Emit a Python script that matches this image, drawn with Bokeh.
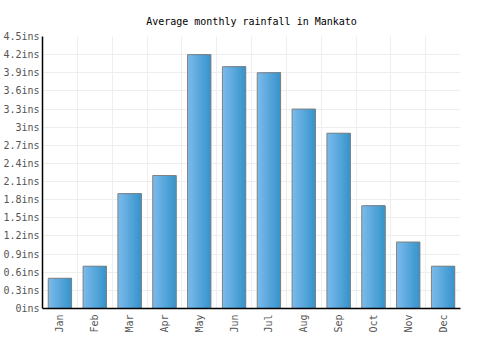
from bokeh.plotting import figure
from bokeh.models import ColumnDataSource, FixedTicker, CustomJSTickFormatter, Range1d
from bokeh.transform import dodge
from bokeh.embed import file_html
from bokeh.resources import INLINE
import numpy as np

months = ["Jan", "Feb", "Mar", "Apr", "May", "Jun", "Jul", "Aug", "Sep", "Oct", "Nov", "Dec"]
rainfall = [0.5, 0.7, 1.9, 2.2, 4.2, 4.0, 3.9, 3.3, 2.9, 1.7, 1.1, 0.7]
y_ticks = [0, 0.3, 0.6, 0.9, 1.2, 1.5, 1.8, 2.1, 2.4, 2.7, 3.0, 3.3, 3.6, 3.9, 4.2, 4.5]

xpos = [i + 0.5 for i in range(len(months))]
src = ColumnDataSource(dict(x=xpos, rain=rainfall, month=months))

FONT = "DejaVu Sans Mono"
p = figure(width=500, height=350, output_backend="svg", toolbar_location=None,
           x_range=Range1d(0, 12), y_range=Range1d(0, 4.5),
           min_border_left=41, min_border_right=40, min_border_top=36, min_border_bottom=42,
           title="Average monthly rainfall in Mankato")
p.title.align = "center"
p.title.text_font = FONT
p.title.text_font_size = "10px"
p.title.text_font_style = "normal"
p.title.text_color = "#000000"
p.title.standoff = 19
p.outline_line_color = None
p.background_fill_color = "white"
p.border_fill_color = "white"

# gradient bars via overlapping strips, each reaching the bar's right edge
bar_w = 0.67
n = 16
c0 = np.array([0x7a, 0xba, 0xec])
c1 = np.array([0x38, 0x95, 0xcc])
for i in range(n):
    t = i / (n - 1)
    c = (c0 * (1 - t) + c1 * t).astype(int)
    col = "#%02x%02x%02x" % tuple(c)
    left = -bar_w / 2 + i * bar_w / n
    right = bar_w / 2
    p.vbar(x=dodge("x", (left + right) / 2), top="rain", width=right - left, source=src,
           fill_color=col, line_color=None)
p.vbar(x="x", top="rain", width=bar_w, source=src, fill_color=None,
       line_color="#808080", line_width=1)

p.xaxis.ticker = FixedTicker(ticks=xpos)
p.xaxis.major_label_overrides = {x: m for x, m in zip(xpos, months)}
p.xaxis.major_label_orientation = np.pi / 2
p.yaxis.ticker = FixedTicker(ticks=y_ticks)
p.yaxis.formatter = CustomJSTickFormatter(code="return (Math.round(tick*10)/10) + 'ins';")

for ax in (p.xaxis[0], p.yaxis[0]):
    ax.major_tick_line_color = None
    ax.minor_tick_line_color = None
    ax.major_tick_out = 0
    ax.major_tick_in = 0
    ax.minor_tick_out = 0
    ax.minor_tick_in = 0
    ax.axis_line_color = "#000000"
    ax.axis_line_width = 1.5
    ax.major_label_text_font = FONT
    ax.major_label_text_font_size = "10px"
    ax.major_label_text_color = "#555555"
p.yaxis.major_label_standoff = 3
p.xaxis.major_label_standoff = 6

p.xgrid.ticker = FixedTicker(ticks=list(range(13)))
p.ygrid.ticker = FixedTicker(ticks=y_ticks)
p.xgrid.grid_line_color = "#eeeeee"
p.ygrid.grid_line_color = "#eeeeee"

open("out.html", "w").write(file_html(p, INLINE))
